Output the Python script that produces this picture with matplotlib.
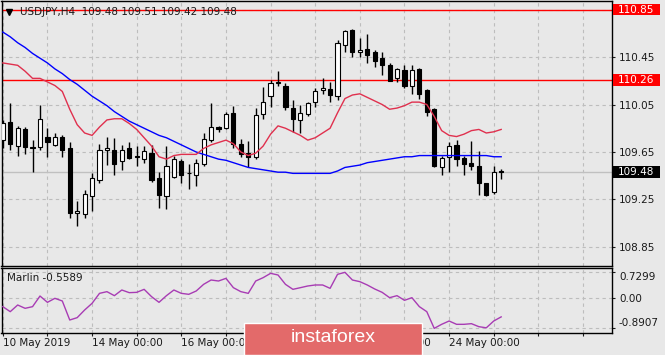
import matplotlib
matplotlib.use("Agg")
import matplotlib.pyplot as plt
from matplotlib.patches import Rectangle
from matplotlib.transforms import blended_transform_factory

title = "USDJPY,H4  109.48 109.51 109.42 109.48"

# H4 candles
opens = [109.75, 109.90, 109.70, 109.84, 109.69, 109.69, 109.78, 109.71, 109.78, 109.68,
         109.14, 109.13, 109.28, 109.41, 109.67, 109.67, 109.57, 109.68, 109.61, 109.59,
         109.64, 109.43, 109.28, 109.44, 109.57, 109.47, 109.46, 109.55, 109.75, 109.86,
         109.85, 109.98, 109.72, 109.64, 109.61, 109.97, 110.12, 110.23, 110.21, 110.02,
         109.92, 109.97, 110.07, 110.17, 110.18, 110.12, 110.55, 110.68, 110.49, 110.52,
         110.49, 110.44, 110.38, 110.27, 110.34, 110.21, 110.35, 110.17, 110.01, 109.52,
         109.61, 109.71, 109.60, 109.56, 109.53, 109.39, 109.31, 109.48]
highs = [109.92, 110.06, 109.87, 109.86, 109.75, 110.05, 109.85, 109.81, 109.79, 109.73,
         109.24, 109.33, 109.47, 109.72, 109.78, 109.77, 109.71, 109.73, 109.70, 109.70,
         109.71, 109.48, 109.70, 109.62, 109.59, 109.55, 109.59, 109.81, 110.06, 109.87,
         109.99, 110.04, 109.76, 109.74, 110.02, 110.20, 110.26, 110.33, 110.23, 110.09,
         110.05, 110.07, 110.19, 110.27, 110.24, 110.59, 110.68, 110.69, 110.61, 110.64,
         110.51, 110.49, 110.40, 110.36, 110.38, 110.38, 110.36, 110.18, 110.02, 109.62,
         109.73, 109.75, 109.62, 109.74, 109.66, 109.39, 109.53, 109.51]
lows = [109.68, 109.67, 109.62, 109.63, 109.48, 109.67, 109.61, 109.70, 109.61, 109.09,
        109.03, 109.09, 109.15, 109.39, 109.54, 109.46, 109.50, 109.59, 109.53, 109.56,
        109.40, 109.18, 109.17, 109.43, 109.39, 109.34, 109.36, 109.53, 109.73, 109.82,
        109.84, 109.68, 109.61, 109.52, 109.59, 109.93, 110.03, 110.21, 110.00, 109.82,
        109.81, 109.95, 110.03, 110.14, 110.07, 110.09, 110.49, 110.45, 110.45, 110.40,
        110.37, 110.30, 110.25, 110.24, 110.19, 110.14, 110.10, 109.95, 109.52, 109.46,
        109.48, 109.53, 109.46, 109.50, 109.29, 109.28, 109.30, 109.42]
closes = [109.89, 109.72, 109.85, 109.69, 109.68, 109.93, 109.73, 109.78, 109.67, 109.14,
          109.15, 109.30, 109.43, 109.67, 109.68, 109.55, 109.67, 109.60, 109.61, 109.66,
          109.41, 109.29, 109.53, 109.59, 109.46, 109.47, 109.56, 109.76, 109.86, 109.84,
          109.97, 109.72, 109.63, 109.61, 109.96, 110.07, 110.23, 110.24, 110.03, 109.93,
          109.98, 110.06, 110.16, 110.19, 110.13, 110.57, 110.67, 110.49, 110.51, 110.47,
          110.42, 110.38, 110.25, 110.35, 110.21, 110.34, 110.14, 109.99, 109.53, 109.60,
          109.70, 109.59, 109.55, 109.53, 109.39, 109.29, 109.48, 109.48]

ma_red = [110.40, 110.39, 110.38, 110.33, 110.27, 110.27, 110.24, 110.21, 110.16, 110.01,
          109.88, 109.81, 109.79, 109.86, 109.92, 109.93, 109.93, 109.89, 109.84, 109.77,
          109.70, 109.61, 109.59, 109.62, 109.63, 109.63, 109.63, 109.68, 109.71, 109.73,
          109.75, 109.72, 109.65, 109.62, 109.64, 109.70, 109.80, 109.87, 109.85, 109.82,
          109.79, 109.75, 109.77, 109.81, 109.85, 109.98, 110.10, 110.13, 110.14, 110.11,
          110.08, 110.05, 110.01, 110.02, 110.04, 110.07, 110.07, 110.05, 109.95, 109.83,
          109.79, 109.78, 109.80, 109.83, 109.84, 109.81, 109.82, 109.84]
ma_blue = [110.66, 110.62, 110.57, 110.53, 110.48, 110.44, 110.40, 110.35, 110.31, 110.26,
           110.22, 110.17, 110.12, 110.08, 110.04, 109.99, 109.95, 109.91, 109.88, 109.85,
           109.82, 109.79, 109.77, 109.74, 109.71, 109.68, 109.65, 109.63, 109.61, 109.59,
           109.58, 109.56, 109.54, 109.52, 109.51, 109.50, 109.49, 109.48, 109.48, 109.47,
           109.47, 109.47, 109.47, 109.47, 109.47, 109.49, 109.52, 109.53, 109.54, 109.56,
           109.57, 109.58, 109.59, 109.60, 109.61, 109.61, 109.62, 109.62, 109.62, 109.62,
           109.62, 109.62, 109.62, 109.62, 109.62, 109.62, 109.61, 109.61]

marlin = [-0.263, -0.408, -0.215, -0.311, -0.263, 0.045, -0.138, -0.022, -0.099, -0.649,
          -0.581, -0.360, -0.167, 0.122, 0.171, 0.055, 0.219, 0.142, 0.151, 0.238,
          0.026, -0.138, 0.055, 0.219, 0.122, 0.094, 0.190, 0.383, 0.508, 0.479,
          0.556, 0.286, 0.171, 0.122, 0.479, 0.576, 0.701, 0.653, 0.383, 0.238,
          0.286, 0.335, 0.364, 0.364, 0.267, 0.672, 0.7299, 0.508, 0.460, 0.364,
          0.248, 0.151, -0.003, 0.055, -0.080, -0.003, -0.263, -0.408, -0.8907, -0.774,
          -0.678, -0.774, -0.774, -0.755, -0.842, -0.875, -0.678, -0.5589]

date_ticks = [0, 12, 24, 36, 48, 60]
date_labels = ["10 May 2019", "14 May 00:00", "16 May 00:00", "20 May 00:00",
               "22 May 00:00", "24 May 00:00"]
price_ticks = [108.85, 109.25, 109.65, 110.05, 110.45, 110.85]
levels = [110.85, 110.26]
last_price = 109.48
marlin_ticks = [-0.8907, 0.0, 0.7299]
marlin_tick_labels = ["-0.8907", "0.00", "0.7299"]

W, H = 665, 355
bg = "#e8e8e8"
txt = "#1a1a1a"
grid_kw = dict(color="#bdbdbd", linestyle=(0, (3, 3)), linewidth=0.8)


def box(x0, y0, x1, y1):
    return [x0 / W, 1 - y1 / H, (x1 - x0) / W, (y1 - y0) / H]


plt.rcParams["font.family"] = "DejaVu Sans"
fig = plt.figure(figsize=(W / 100, H / 100), dpi=100, facecolor=bg)
ax = fig.add_axes(box(1.5, 1, 612, 265.7), facecolor=bg)
ax2 = fig.add_axes(box(1.5, 268.3, 612, 332.7), facecolor=bg, sharex=ax)

xs = list(range(len(opens)))
bottoms = [min(o, c) for o, c in zip(opens, closes)]
heights = [max(abs(c - o), 0.006) for o, c in zip(opens, closes)]
colors = ["white" if c > o else "black" for o, c in zip(opens, closes)]

ax.axhline(last_price, color="#c0c0c0", lw=1, zorder=1)
for lv in levels:
    ax.axhline(lv, color="red", lw=1, zorder=2)
ax.vlines(xs, lows, highs, color="black", lw=1, zorder=3)
ax.bar(xs, heights, bottom=bottoms, width=0.56, color=colors,
       edgecolor="black", linewidth=0.8, zorder=4)
ax.plot(xs, ma_blue, color="#0000ff", lw=1, zorder=5)
ax.plot(xs, ma_red, color="#e0304e", lw=1, zorder=5)

ax.set_xlim(-0.175, 81.9)
ax.set_ylim(108.6925, 110.9216)
ax.set_xticks(range(0, 82, 6))
ax.set_yticks(price_ticks)
ax.set_yticklabels(["%.2f" % p for p in price_ticks])
ax.yaxis.tick_right()
ax.tick_params(axis="y", direction="out", length=2.5, pad=2.5, labelsize=7.5,
               labelcolor=txt, color=txt)
ax.tick_params(axis="x", bottom=False, labelbottom=False)
ax.grid(True, **grid_kw)
ax.set_axisbelow(True)
for s in ax.spines.values():
    s.set_color("black")
    s.set_linewidth(1)

ax.plot([0.0125], [0.958], marker="v", ms=4.5, color="black",
        transform=ax.transAxes, clip_on=False)
ax.text(0.03, 0.958, title, transform=ax.transAxes, fontsize=7.5,
        color=txt, va="center", ha="left", zorder=6)

# price tags on the right scale
tr = blended_transform_factory(ax.transAxes, ax.transData)
for price, face in [(110.85, "red"), (110.26, "red"), (last_price, "black")]:
    ax.add_patch(Rectangle((1.0016, price - 0.0505), 0.077, 0.101, transform=tr,
                           facecolor=face, edgecolor="none", clip_on=False, zorder=6))
    ax.text(1.0098, price, "%.2f" % price, transform=tr, color="white",
            fontsize=7.5, va="center", ha="left", zorder=7, clip_on=False)

# indicator window
ax2.plot(xs, marlin, color="#a83cb4", lw=1, zorder=3)
ax2.set_ylim(-1.0164, 0.8467)
ax2.set_yticks(marlin_ticks)
ax2.set_yticklabels(marlin_tick_labels)
ax2.yaxis.tick_right()
ax2.tick_params(axis="y", direction="out", length=2.5, pad=2.5, labelsize=7.5,
                labelcolor=txt, color=txt)
ylabs = ax2.get_yticklabels()
ylabs[0].set_va("bottom")
ylabs[2].set_va("top")
ax2.grid(True, **grid_kw)
ax2.set_axisbelow(True)
ax2.set_xticks(range(0, 82, 6))
xlab = []
for t in range(0, 82, 6):
    xlab.append(date_labels[date_ticks.index(t)] if t in date_ticks else "")
ax2.set_xticklabels(xlab)
ax2.tick_params(axis="x", direction="out", length=2.5, pad=1.5, labelsize=7.5,
                labelcolor=txt, color=txt)
for lab in ax2.get_xticklabels():
    lab.set_ha("left")
for s in ax2.spines.values():
    s.set_color("black")
    s.set_linewidth(1)
ax2.text(0.009, 0.849, "Marlin -0.5589", transform=ax2.transAxes, fontsize=7.5,
         color=txt, va="center", ha="left")

# watermark
fig.patches.append(Rectangle((244 / W, 0), 178 / W, (H - 323.3) / H,
                             transform=fig.transFigure, facecolor="#e36a6a",
                             edgecolor="white", linewidth=1, zorder=10))
fig.text(333 / W, 1 - 338 / H, "instaforex", color="white", fontsize=14,
         family="Liberation Sans", ha="center", va="center", zorder=11)

plt.savefig("out.png", dpi=100, facecolor=bg)
plt.close()
